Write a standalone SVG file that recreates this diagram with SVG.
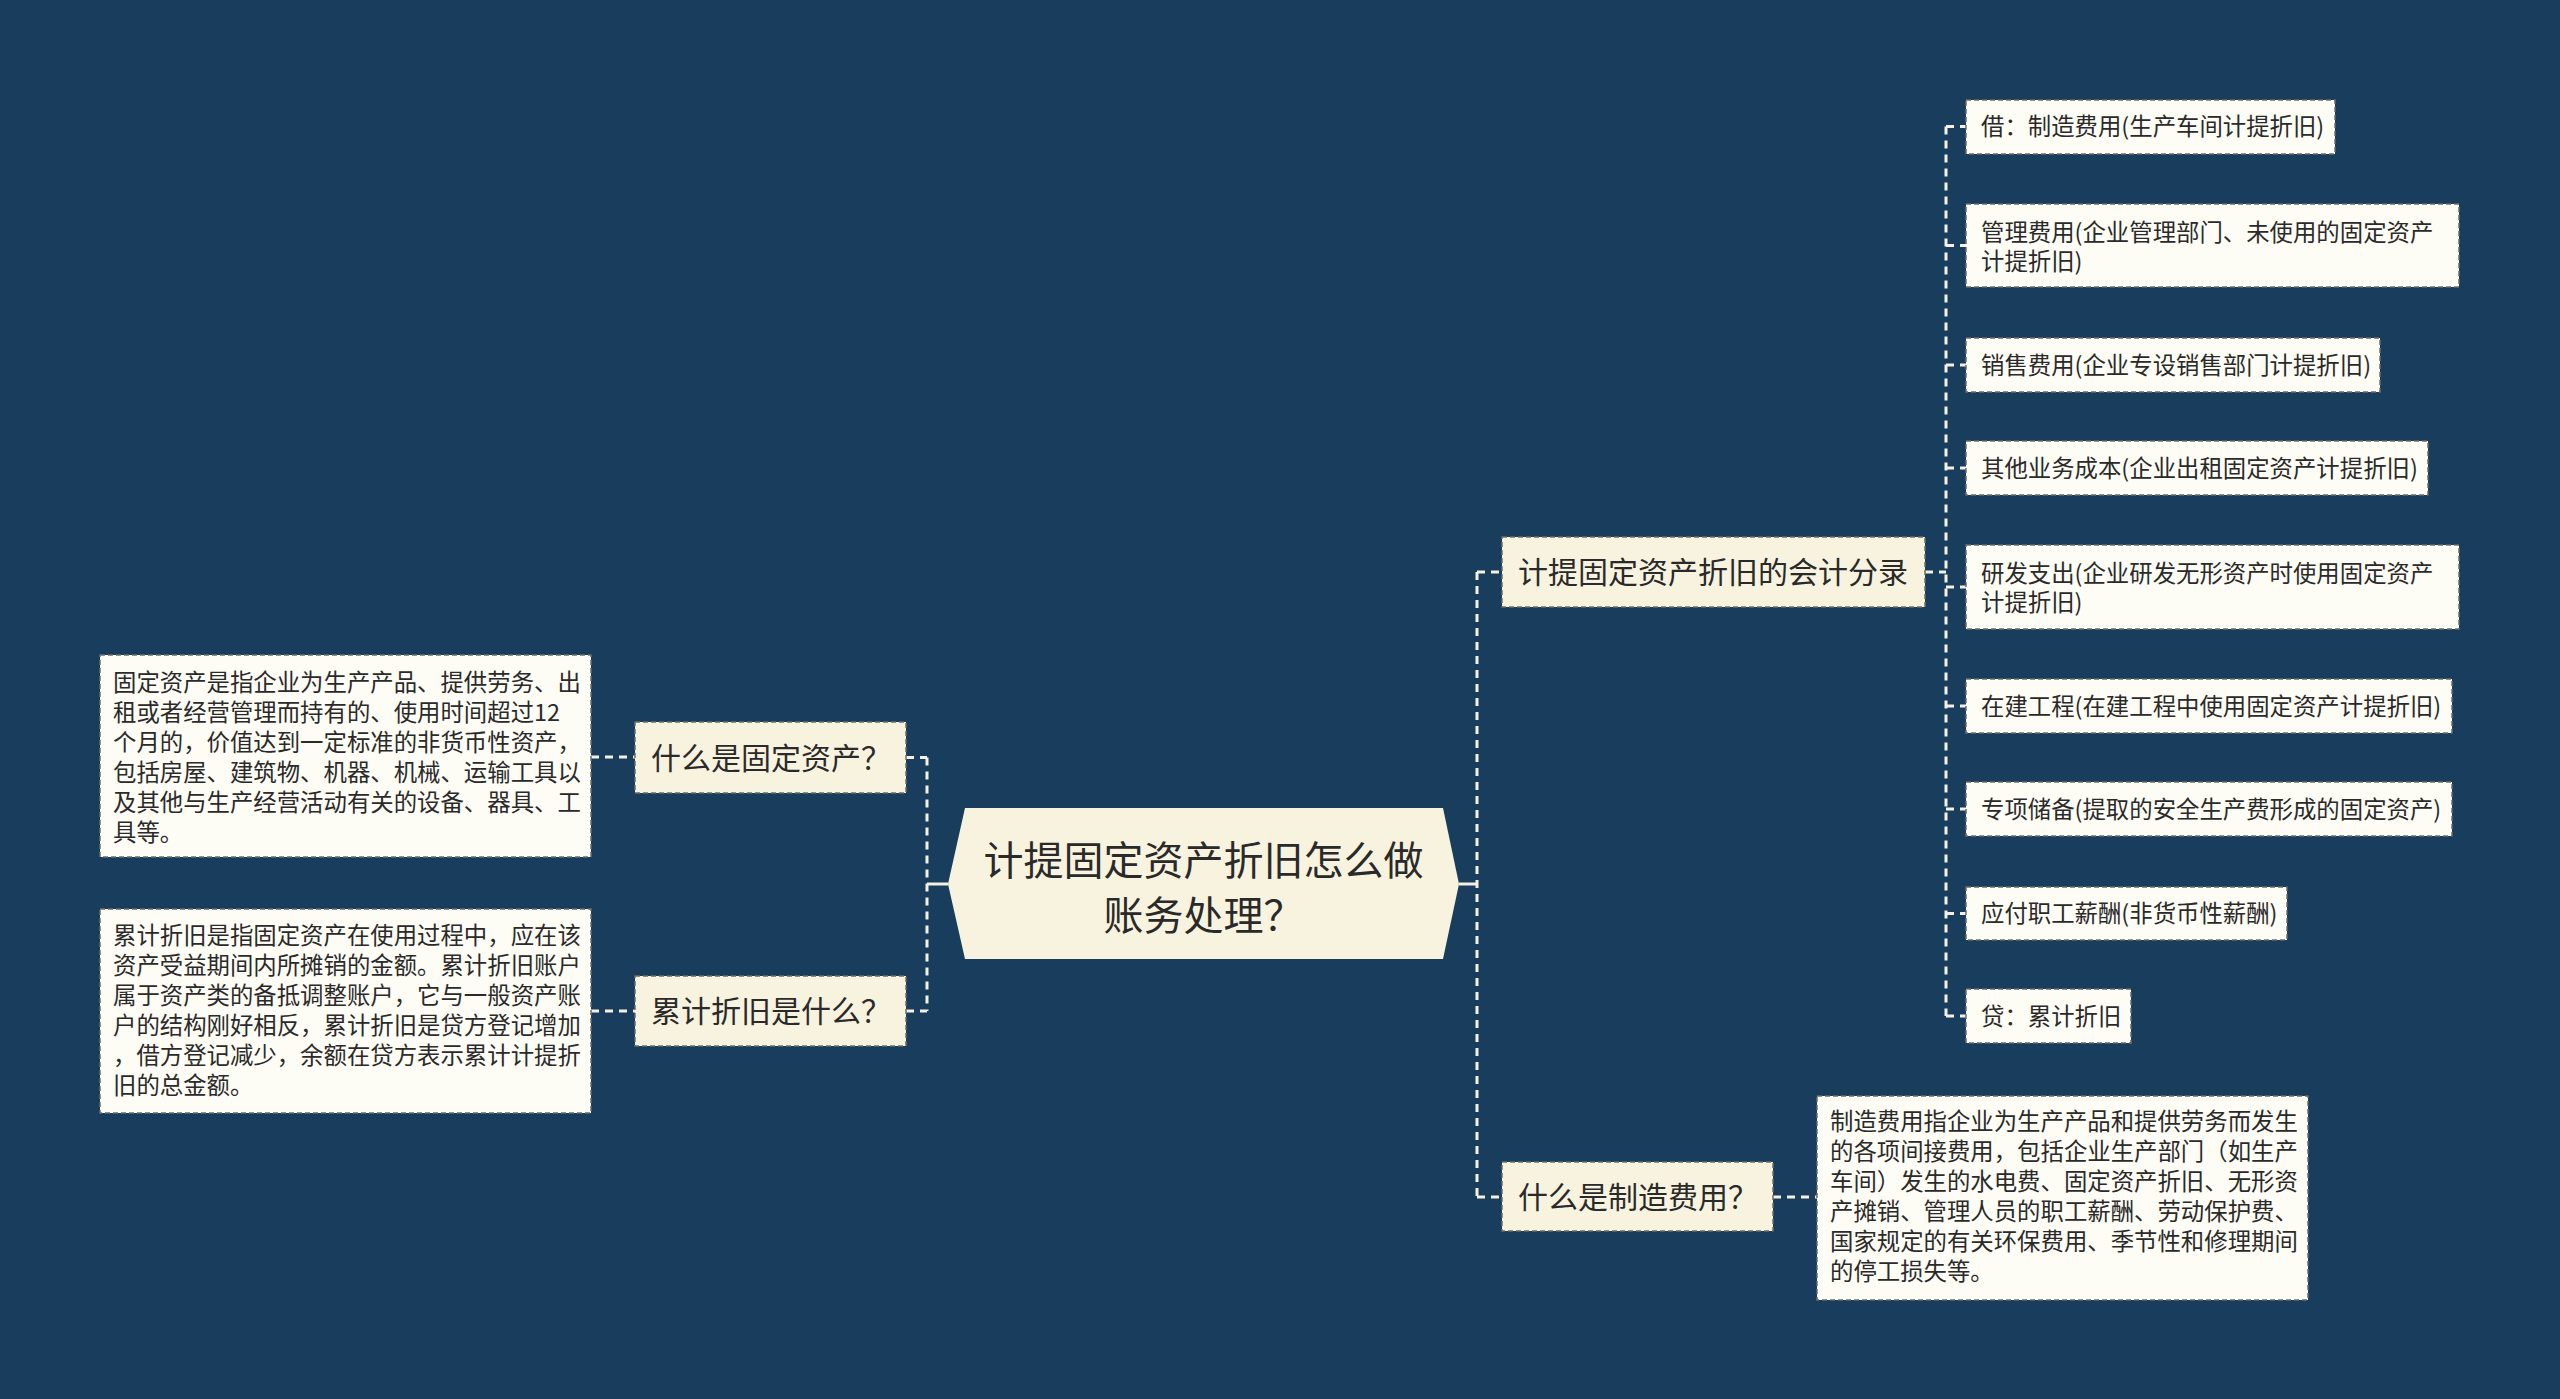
<svg xmlns="http://www.w3.org/2000/svg" width="2560" height="1399" viewBox="0 0 2560 1399">
<style>
text{font-family:"Noto Sans CJK SC","Noto Sans",sans-serif;fill:#2a2a2a}
.root{font-size:40px}
.l1{font-size:30px}
.lf{font-size:23.4px}
.b1{fill:#f8f3df;stroke:#6e6c64;stroke-width:1.5;stroke-dasharray:5 3}
.b2{fill:#fdfcf5;stroke:#6e6c64;stroke-width:1.5;stroke-dasharray:5 3}
.c{fill:none;stroke:#f4f1e4;stroke-width:3;stroke-dasharray:8 6}
.s{fill:none;stroke:#f4f1e4;stroke-width:3}
</style>
<rect width="2560" height="1399" fill="#193d5d"/>
<g id="connectors">
<path class="s" d="M948 884H927M1459 884H1477"/>
<path class="c" d="M927 757.5V1011M906 757.5H927M906 1011H927"/>
<path class="c" d="M591 757H635M591 1011H635"/>
<path class="c" d="M1477 572V1197M1477 572H1502M1477 1197H1502"/>
<path class="c" d="M1773 1197H1817"/>
<path class="c" d="M1925 572H1946M1946 126.5V1016"/>
<path class="c" d="M1946 126.5H1966M1946 245.5H1966M1946 365H1966M1946 468H1966M1946 587H1966M1946 706H1966M1946 809H1966M1946 913.5H1966M1946 1016H1966"/>
</g>
<g id="root">
<polygon points="948,884 965,808 1443,808 1459,884 1443,959 965,959" fill="#f8f3df"/>
<text class="root" x="1203.5" y="875" text-anchor="middle">计提固定资产折旧怎么做</text>
<text class="root" x="1203.5" y="930" text-anchor="middle">账务处理？</text>
</g>
<g id="n-fixed-asset">
<rect class="b1" x="635" y="722" width="271" height="71"/>
<text class="l1" x="651" y="768.5">什么是固定资产？</text>
</g>
<g id="d-fixed-asset">
<rect class="b2" x="100" y="655" width="491" height="202"/>
<text class="lf" x="113" y="691">固定资产是指企业为生产产品、提供劳务、出</text>
<text class="lf" x="113" y="721">租或者经营管理而持有的、使用时间超过12</text>
<text class="lf" x="113" y="751">个月的，价值达到一定标准的非货币性资产，</text>
<text class="lf" x="113" y="781">包括房屋、建筑物、机器、机械、运输工具以</text>
<text class="lf" x="113" y="811">及其他与生产经营活动有关的设备、器具、工</text>
<text class="lf" x="113" y="841">具等。</text>
</g>
<g id="n-accum">
<rect class="b1" x="635" y="976" width="271" height="70"/>
<text class="l1" x="651" y="1022">累计折旧是什么？</text>
</g>
<g id="d-accum">
<rect class="b2" x="100" y="909" width="491" height="204"/>
<text class="lf" x="113" y="944">累计折旧是指固定资产在使用过程中，应在该</text>
<text class="lf" x="113" y="974">资产受益期间内所摊销的金额。累计折旧账户</text>
<text class="lf" x="113" y="1004">属于资产类的备抵调整账户，它与一般资产账</text>
<text class="lf" x="113" y="1034">户的结构刚好相反，累计折旧是贷方登记增加</text>
<text class="lf" x="113" y="1064">，借方登记减少，余额在贷方表示累计计提折</text>
<text class="lf" x="113" y="1094">旧的总金额。</text>
</g>
<g id="n-entries">
<rect class="b1" x="1502" y="537" width="423" height="70"/>
<text class="l1" x="1518" y="583">计提固定资产折旧的会计分录</text>
</g>
<g id="n-mfg">
<rect class="b1" x="1502" y="1162" width="271" height="69"/>
<text class="l1" x="1518" y="1208">什么是制造费用？</text>
</g>
<g id="d-mfg">
<rect class="b2" x="1817" y="1096" width="491" height="204"/>
<text class="lf" x="1830" y="1130">制造费用指企业为生产产品和提供劳务而发生</text>
<text class="lf" x="1830" y="1160">的各项间接费用，包括企业生产部门（如生产</text>
<text class="lf" x="1830" y="1190">车间）发生的水电费、固定资产折旧、无形资</text>
<text class="lf" x="1830" y="1220">产摊销、管理人员的职工薪酬、劳动保护费、</text>
<text class="lf" x="1830" y="1250">国家规定的有关环保费用、季节性和修理期间</text>
<text class="lf" x="1830" y="1280">的停工损失等。</text>
</g>
<g id="leaf1">
<rect class="b2" x="1966" y="100" width="369" height="54"/>
<text class="lf" x="1981" y="135">借：制造费用(生产车间计提折旧)</text>
</g>
<g id="leaf2">
<rect class="b2" x="1966" y="204" width="493" height="83"/>
<text class="lf" x="1981" y="240.5">管理费用(企业管理部门、未使用的固定资产</text>
<text class="lf" x="1981" y="270">计提折旧)</text>
</g>
<g id="leaf3">
<rect class="b2" x="1966" y="338" width="414" height="54"/>
<text class="lf" x="1981" y="373.5">销售费用(企业专设销售部门计提折旧)</text>
</g>
<g id="leaf4">
<rect class="b2" x="1966" y="441" width="462" height="54"/>
<text class="lf" x="1981" y="476.5">其他业务成本(企业出租固定资产计提折旧)</text>
</g>
<g id="leaf5">
<rect class="b2" x="1966" y="545" width="493" height="84"/>
<text class="lf" x="1981" y="582">研发支出(企业研发无形资产时使用固定资产</text>
<text class="lf" x="1981" y="611">计提折旧)</text>
</g>
<g id="leaf6">
<rect class="b2" x="1966" y="679" width="486" height="54"/>
<text class="lf" x="1981" y="714.5">在建工程(在建工程中使用固定资产计提折旧)</text>
</g>
<g id="leaf7">
<rect class="b2" x="1966" y="782" width="486" height="54"/>
<text class="lf" x="1981" y="817.5">专项储备(提取的安全生产费形成的固定资产)</text>
</g>
<g id="leaf8">
<rect class="b2" x="1966" y="887" width="321" height="53"/>
<text class="lf" x="1981" y="922">应付职工薪酬(非货币性薪酬)</text>
</g>
<g id="leaf9">
<rect class="b2" x="1966" y="989" width="165" height="54"/>
<text class="lf" x="1981" y="1024.5">贷：累计折旧</text>
</g>
</svg>
